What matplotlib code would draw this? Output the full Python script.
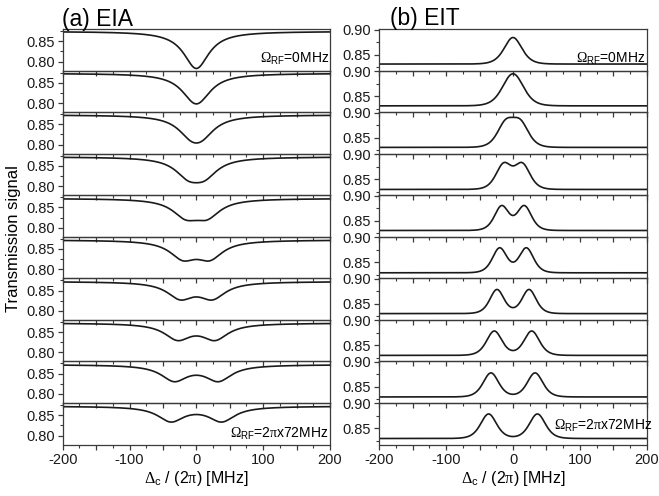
import numpy as np
import matplotlib
matplotlib.use("Agg")
import matplotlib.pyplot as plt
from matplotlib.ticker import MultipleLocator, FuncFormatter

plt.rcParams["font.family"] = ["Liberation Sans", "DejaVu Sans"]
plt.rcParams["mathtext.fontset"] = "custom"
plt.rcParams["mathtext.rm"] = "Liberation Serif"
plt.rcParams["mathtext.it"] = "Liberation Serif:italic"
plt.rcParams["mathtext.sf"] = "Liberation Sans"

# RF Rabi frequency of each trace, MHz (2pi x ...)
omega_rf = [0, 8, 16, 24, 32, 40, 48, 56, 64, 72]

# (a) EIA: two Lorentzian dips at +/- shift
eia_base = [0.874, 0.873, 0.873, 0.872, 0.872, 0.872, 0.872, 0.872, 0.872, 0.872]
eia_shift = [0, 4, 8, 12, 16, 20, 24, 28, 33, 38]
eia_depth = [0.0455, 0.0385, 0.0383, 0.0397, 0.039, 0.0405, 0.0378, 0.0373, 0.0376, 0.0358]
eia_width = [23, 24, 24, 24, 24, 24, 24, 24, 24, 24]

# (b) EIT: two peaks at +/- shift
eit_base = [0.831, 0.8305, 0.8305, 0.8295, 0.8305, 0.829, 0.8305, 0.830, 0.830, 0.830]
eit_shift = [0, 5, 11, 14, 17, 20, 24, 28, 33, 36.5]
eit_amp = [0.0265, 0.0343, 0.045, 0.0485, 0.0483, 0.0493, 0.048, 0.0486, 0.048, 0.049]
eit_width = [17.6, 19, 16.7, 15.5, 14.3, 14.3, 14.1, 15.4, 15.5, 15.9]

det = np.linspace(-200, 200, 1601)


def eia_curve(i):
    s, w = eia_shift[i], eia_width[i]
    dip = 1 / (1 + ((det - s) / w) ** 2) + 1 / (1 + ((det + s) / w) ** 2)
    return eia_base[i] - eia_depth[i] * dip


def eit_curve(i):
    s, b = eit_shift[i], eit_width[i]
    pk = 1 / np.cosh((det - s) / b) ** 2 + 1 / np.cosh((det + s) / b) ** 2
    return eit_base[i] + eit_amp[i] * pk


W, H = 659, 496
fig = plt.figure(figsize=(W / 100, H / 100), dpi=100)

n = len(omega_rf)
top_px, bot_px = 29, 444.5
h_px = (bot_px - top_px) / n
cols = [(62.7, 330.0), (379.3, 646.7)]

line_kw = dict(color="#1a1a1a", lw=1.2)
spine_c = "#3a3a3a"


def xfmt(v, p):
    if abs(v % 100) < 1e-6 or abs(v % 100 - 100) < 1e-6:
        return f"{int(round(v))}"
    return ""


axes = [[], []]
for c, (x0, x1) in enumerate(cols):
    for i in range(n):
        yb = top_px + h_px * (i + 1)
        ax = fig.add_axes([x0 / W, 1 - yb / H, (x1 - x0) / W, h_px / H])
        ax.set_facecolor("none")
        if c == 0:
            ax.plot(det, eia_curve(i), **line_kw)
            ax.set_ylim(0.7779, 0.880)
            ax.set_yticks([0.80, 0.85])
        else:
            ax.plot(det, eit_curve(i), **line_kw)
            ax.set_ylim(0.818, 0.901)
            ax.set_yticks([0.85, 0.90])
        ax.yaxis.set_major_formatter(FuncFormatter(lambda v, p: f"{v:.2f}"))
        ax.yaxis.set_minor_locator(MultipleLocator(0.025))
        ax.set_xlim(-200, 200)
        ax.xaxis.set_major_locator(MultipleLocator(50))
        ax.xaxis.set_minor_locator(MultipleLocator(25))
        ax.xaxis.set_major_formatter(FuncFormatter(xfmt))
        ax.tick_params(which="major", direction="out", length=3.8, width=0.9,
                       color=spine_c, labelsize=10.5, pad=2.0, labelcolor="#1a1a1a")
        ax.tick_params(which="minor", direction="out", length=2.2, width=0.8,
                       color=spine_c)
        ax.tick_params(axis="x", labelbottom=(i == n - 1), pad=2.5)
        for sp in ax.spines.values():
            sp.set_color(spine_c)
            sp.set_linewidth(0.9)
        axes[c].append(ax)

# annotations
label0 = r"$\Omega_{\mathsf{RF}}$=0MHz"
label1 = r"$\Omega_{\mathsf{RF}}$=2$\mathrm{\pi}$x72MHz"
axes[0][0].text(0.996, 0.18, label0, transform=axes[0][0].transAxes,
                ha="right", va="baseline", fontsize=10)
axes[1][0].text(0.994, 0.18, label0, transform=axes[1][0].transAxes,
                ha="right", va="baseline", fontsize=10)
axes[0][-1].text(0.993, 0.156, label1, transform=axes[0][-1].transAxes,
                 ha="right", va="baseline", fontsize=10)
axes[1][-1].text(1.02, 0.35, label1, transform=axes[1][-1].transAxes,
                 ha="right", va="baseline", fontsize=10)

# panel titles
fig.text(62 / W, 1 - 26 / H, "(a) EIA", fontsize=16.5, va="baseline", ha="left")
fig.text(390 / W, 1 - 25 / H, "(b) EIT", fontsize=16.5, va="baseline", ha="left")

# axis labels
fig.text(14 / W, 1 - 239 / H, "Transmission signal", rotation=90,
         ha="center", va="center", fontsize=12)
xl = r"$\Delta_{\mathsf{c}}$ / (2$\mathrm{\pi}$) [MHz]"
fig.text(196 / W, 1 - 478 / H, xl, ha="center", va="center", fontsize=11.5)
fig.text(513 / W, 1 - 478 / H, xl, ha="center", va="center", fontsize=11.5)

fig.savefig("out.png", dpi=100)
